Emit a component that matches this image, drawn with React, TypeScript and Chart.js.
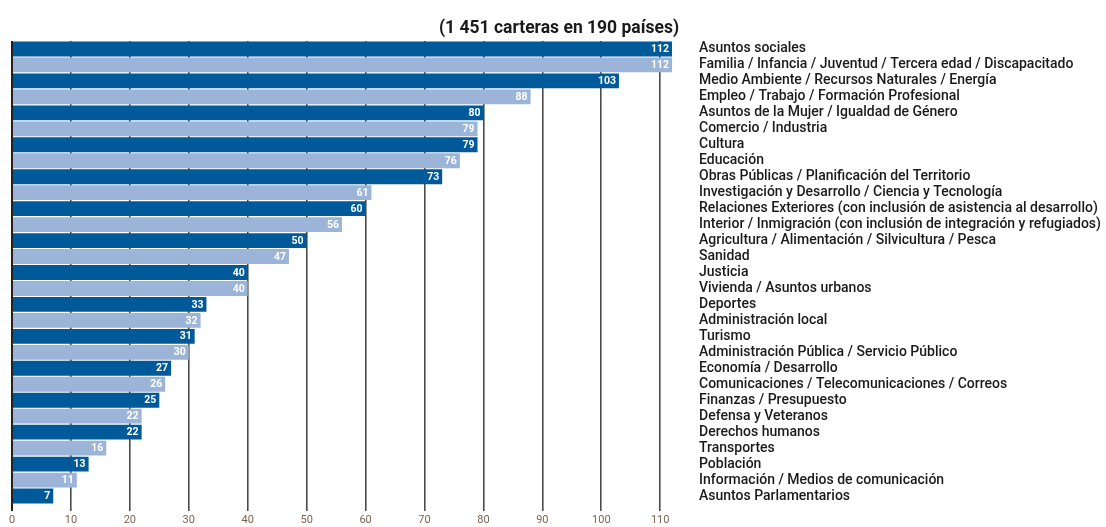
import React, { useEffect, useRef } from "react";
import { Chart, registerables } from "chart.js";

Chart.register(...registerables);

const categories = [
  "Asuntos sociales",
  "Familia / Infancia / Juventud / Tercera edad / Discapacitado",
  "Medio Ambiente / Recursos Naturales / Energía",
  "Empleo / Trabajo / Formación Profesional",
  "Asuntos de la Mujer / Igualdad de Género",
  "Comercio / Industria",
  "Cultura",
  "Educación",
  "Obras Públicas / Planificación del Territorio",
  "Investigación y Desarrollo / Ciencia y Tecnología",
  "Relaciones Exteriores (con inclusión de asistencia al desarrollo)",
  "Interior / Inmigración (con inclusión de integración y refugiados)",
  "Agricultura / Alimentación / Silvicultura / Pesca",
  "Sanidad",
  "Justicia",
  "Vivienda / Asuntos urbanos",
  "Deportes",
  "Administración local",
  "Turismo",
  "Administración Pública / Servicio Público",
  "Economía / Desarrollo",
  "Comunicaciones / Telecomunicaciones / Correos",
  "Finanzas / Presupuesto",
  "Defensa y Veteranos",
  "Derechos humanos",
  "Transportes",
  "Población",
  "Información / Medios de comunicación",
  "Asuntos Parlamentarios",
];

const values = [
  112, 112, 103, 88, 80, 79, 79, 76, 73, 61, 60, 56, 50, 47, 40, 40, 33, 32, 31,
  30, 27, 26, 25, 22, 22, 16, 13, 11, 7,
];

const xTicks = [0, 10, 20, 30, 40, 50, 60, 70, 80, 90, 100, 110];

const titleText = "(1 451 carteras en 190 países)";

const DARK = "#005a9a";
const LIGHT = "#9bb4d8";
const FONT = "Roboto, 'Liberation Sans', Arial, sans-serif";

const valueLabels = {
  id: "valueLabels",
  afterDatasetsDraw(chart: any) {
    const ctx = chart.ctx;
    const meta = chart.getDatasetMeta(0);
    ctx.save();
    ctx.fillStyle = "#ffffff";
    ctx.font = `bold 10.5px ${FONT}`;
    ctx.textAlign = "right";
    ctx.textBaseline = "middle";
    meta.data.forEach((el: any, i: number) => {
      ctx.fillText(String(values[i]), el.x - 3, el.y + 0.5);
    });
    ctx.restore();
  },
};

export default function App() {
  const ref = useRef<HTMLCanvasElement | null>(null);
  useEffect(() => {
    if (!ref.current) return;
    const chart = new Chart(ref.current, {
      type: "bar",
      data: {
        labels: categories,
        datasets: [
          {
            data: values,
            backgroundColor: values.map((_, i) => (i % 2 === 0 ? DARK : LIGHT)),
            borderWidth: 0,
            barPercentage: 0.93,
            categoryPercentage: 1,
          },
        ],
      },
      options: {
        indexAxis: "y",
        animation: false,
        responsive: false,
        maintainAspectRatio: false,
        layout: { padding: { left: 12, right: 0, top: 0, bottom: 0 } },
        plugins: {
          legend: { display: false },
          tooltip: { enabled: false },
          title: {
            display: true,
            text: titleText,
            color: "#1a1a1a",
            font: { family: FONT, size: 17.5, weight: "bold", lineHeight: 1.2 },
            padding: { top: 18, bottom: 2 },
          },
        },
        scales: {
          x: {
            type: "linear",
            min: 0,
            max: 112,
            afterBuildTicks(scale: any) {
              scale.ticks = xTicks.map((v) => ({ value: v }));
            },
            afterFit(scale: any) {
              scale.height = 23;
            },
            ticks: {
              color: "#7a6450",
              font: { family: FONT, size: 11 },
              padding: 3,
              maxRotation: 0,
              includeBounds: false,
            },
            grid: {
              color: (c: any) => (c.tick && c.tick.value === 0 ? "#222" : "#4a4a4a"),
              lineWidth: (c: any) => (c.tick && c.tick.value === 0 ? 2 : 1.6),
              drawTicks: true,
              tickLength: 7,
            },
            border: { display: false },
          },
          y: {
            position: "right",
            afterFit(scale: any) {
              scale.width = 434;
              scale.paddingTop = 0;
              scale.paddingBottom = 0;
            },
            ticks: {
              color: "#1a1a1a",
              font: { family: FONT, size: 14, weight: 500 },
              padding: 27,
              autoSkip: false,
            },
            grid: { display: false, drawTicks: false },
            border: { display: false },
          },
        },
      },
      plugins: [valueLabels],
    });
    return () => chart.destroy();
  }, []);
  return (
    <div style={{ position: "fixed", left: 0, top: 0, width: 1106, height: 527, background: "#fff" }}>
      <canvas ref={ref} width={1106} height={527} style={{ width: 1106, height: 527 }} />
    </div>
  );
}
